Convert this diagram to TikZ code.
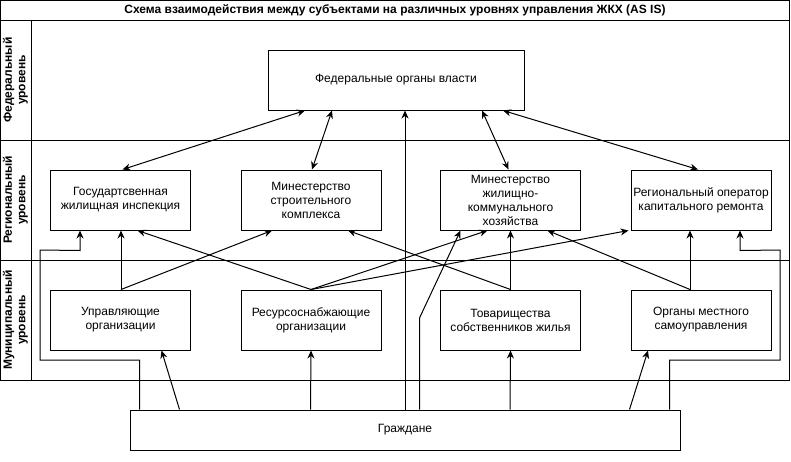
\documentclass[tikz,border=0pt]{standalone}
\usepackage{fontspec}
\setmainfont{Liberation Sans}
\usetikzlibrary{arrows.meta,calc}
\begin{document}
\begin{tikzpicture}[x=1pt,y=-1pt,
  box/.style={draw,line width=1pt,rectangle,minimum width=140pt,minimum height=60pt,inner xsep=0pt,inner ysep=2pt,align=center,font=\fontsize{12}{14}\selectfont},
  lanelbl/.style={rotate=90,align=center,font=\bfseries\fontsize{12}{13.5}\selectfont},
  frame/.style={line width=1pt},
  con/.style={line width=1pt,-{Stealth[length=8pt,width=7pt]}},
  bicon/.style={line width=1pt,{Stealth[length=8pt,width=7pt]}-{Stealth[length=8pt,width=7pt]}},
  wire/.style={line width=1pt}]
\useasboundingbox (0,0) rectangle (791,461);
\fill[white] (0,0) rectangle (791,461);
% pool frame
\draw[frame] (0.5,0.5) rectangle (789.5,380);
\draw[frame] (0.5,20) -- (789.5,20);
\draw[frame] (0.5,140) -- (789.5,140);
\draw[frame] (0.5,260) -- (789.5,260);
\draw[frame] (31,20) -- (31,380);
\node[font=\bfseries\fontsize{12}{14}\selectfont] (title) at (395,10) {Схема взаимодействия между субъектами на различных уровнях управления ЖКХ (AS IS)};
\node[lanelbl] (l1) at (15.5,80) {Федеральный\\уровень};
\node[lanelbl] (l2) at (15.5,200) {Региональный\\уровень};
\node[lanelbl] (l3) at (15.5,320) {Муниципальный\\уровень};
% nodes
\node[box,minimum width=256pt] (fed) at (396,80) {Федеральные органы власти};
\node[box] (gzhi) at (120.5,200) {Государтсвенная\\жилищная инспекция};
\node[box] (mstr) at (311,200) {Минестерство\\строительного\\комплекса};
\node[box] (mzhkh) at (510.5,200) {Минестерство\\жилищно-\\коммунального\\хозяйства};
\node[box] (reg) at (701,200) {Региональный оператор\\капитального ремонта};
\node[box] (uo) at (120.5,320) {Управляющие\\организации};
\node[box] (rso) at (311,320) {Ресурсоснабжающие\\организации};
\node[box] (tsg) at (510.5,320) {Товарищества\\собственников жилья};
\node[box] (omsu) at (701,320) {Органы местного\\самоуправления};
\node[box,minimum width=550pt,minimum height=40pt] (grazh) at (405,430) {Граждане};
% federal <-> regional
\draw[bicon] ($(fed.south)+(-91,0)$) -- ($(gzhi.north)+(2,0)$);
\draw[bicon] ($(fed.south)+(-64,0)$) -- ($(mstr.north)+(1,0)$);
\draw[bicon] ($(fed.south)+(86,0)$) -- ($(mzhkh.north)+(-2,0)$);
\draw[bicon] ($(fed.south)+(107,0)$) -- ($(reg.north)+(-3,0)$);
% citizens -> federal
\draw[con] (grazh.north) -- (grazh.north |- fed.south);
% municipal -> regional
\draw[con] ($(uo.north)+(0.5,0)$) -- ($(gzhi.south)+(0.5,0)$);
\draw[con] ($(uo.north)+(0.5,0)$) -- ($(mstr.south)+(-39,0)$);
\draw[con] (rso.north) -- ($(gzhi.south)+(17,0)$);
\draw[con] (rso.north) -- ($(mzhkh.south)+(-23,0)$);
\draw[con] (rso.north) -- ($(reg.south west)+(-2,0)$);
\draw[con] (tsg.north) -- ($(mstr.south)+(37,0)$);
\draw[con] (tsg.north) -- (mzhkh.south);
\draw[con] ($(omsu.north)+(-11,0)$) -- ($(reg.south)+(-11,0)$);
\draw[con] ($(omsu.north)+(-11,0)$) -- ($(mzhkh.south)+(37,0)$);
% citizens -> municipal
\draw[con] ($(grazh.north west)+(50,0)$) -- ($(uo.south)+(41,0)$);
\draw[con] ($(grazh.north west)+(181,0)$) -- (rso.south);
\draw[con] ($(grazh.north west)+(380.5,0)$) -- (tsg.south);
\draw[con] ($(grazh.north west)+(500,0)$) -- ($(omsu.south)+(-53,0)$);
% citizens -> regional (orthogonal)
\coordinate (ga) at ($(grazh.north west)+(10,0)$);
\draw[con] (ga) -- (ga |- 0,360) -- (40,360) -- (40,250) -- ($(gzhi.south)+(-40.5,20)$) -- ($(gzhi.south)+(-40.5,0)$);
\coordinate (gb) at ($(grazh.north west)+(540,0)$);
\draw[con] (gb) -- (gb |- 0,360) -- (780,360) -- (780,250) -- ($(reg.south)+(39,20)$) -- ($(reg.south)+(39,0)$);
\coordinate (gc) at ($(grazh.north west)+(290,0)$);
\draw[con] (gc) -- (gc |- 0,318) -- ($(mzhkh.south)+(-50,0)$);
\end{tikzpicture}
\end{document}
